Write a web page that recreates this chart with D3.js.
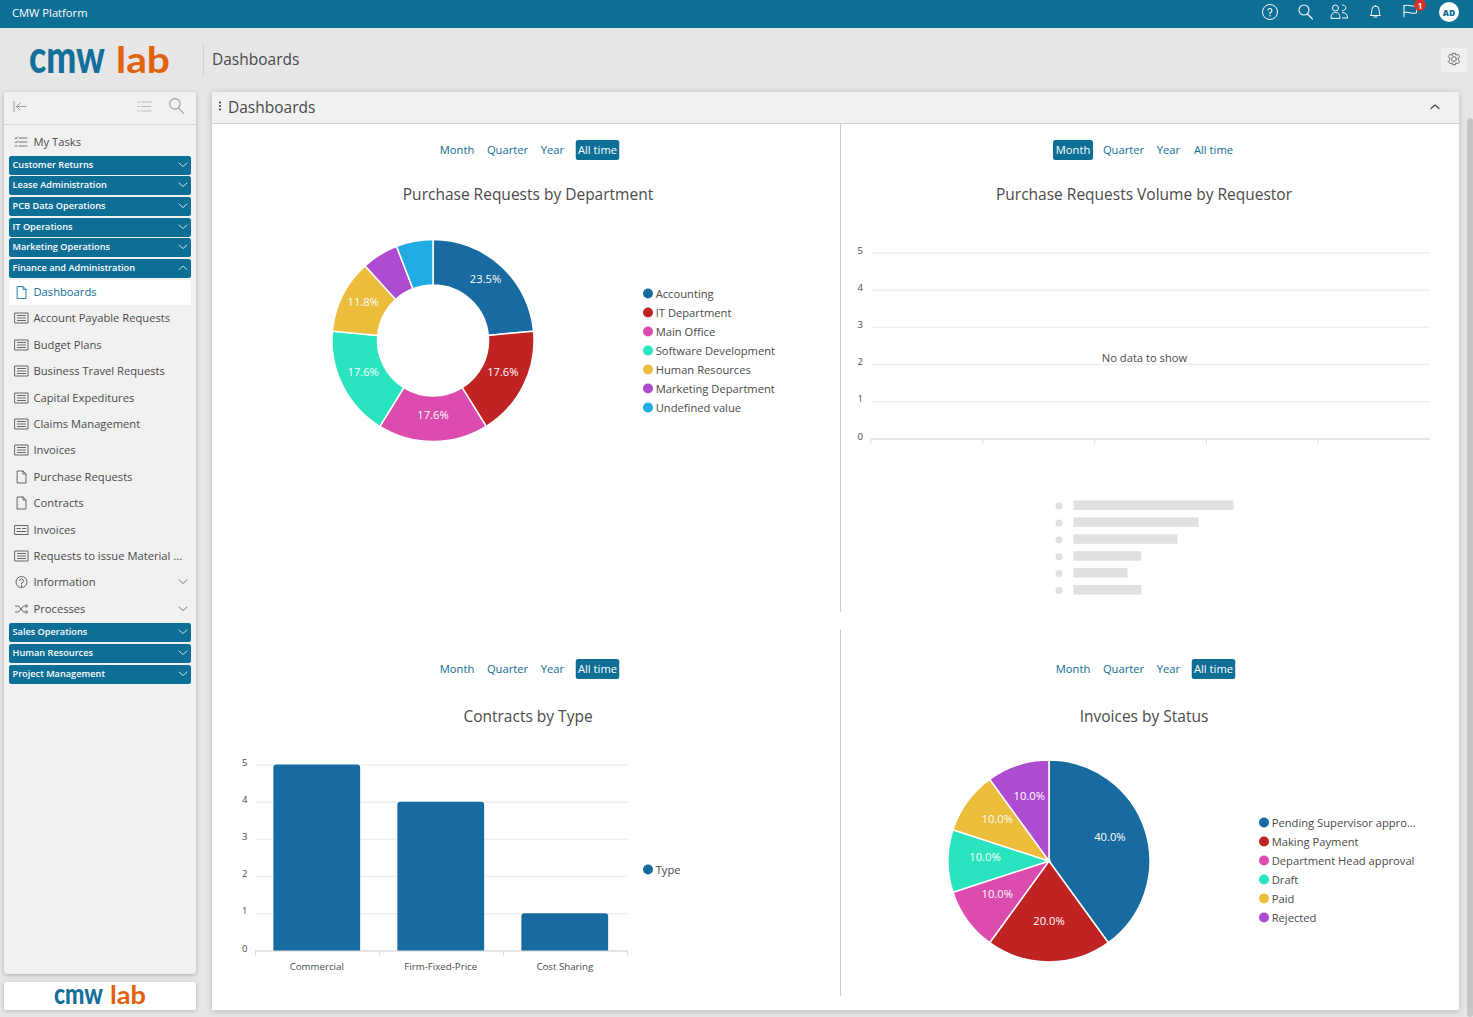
<!DOCTYPE html>
<html>
<head>
<meta charset="utf-8">
<title>Dashboards</title>
<script src="https://cdn.jsdelivr.net/npm/d3@7"></script>
<style>
html, body { margin: 0; padding: 0; background: #e6e6e6; overflow: hidden; }
svg { display: block; font-family: "Open Sans", sans-serif; }
</style>
</head>
<body>
<svg id="page" width="1473" height="1017"></svg>
<script>
// chart data
const departments = ["Accounting", "IT Department", "Main Office", "Software Development", "Human Resources", "Marketing Department", "Undefined value"];
const departmentRequests = [4, 3, 3, 3, 2, 1, 1];
const contractTypes = ["Commercial", "Firm-Fixed-Price", "Cost Sharing"];
const contractCounts = [5, 4, 1];
const invoiceStatuses = ["Pending Supervisor appro...", "Making Payment", "Department Head approval", "Draft", "Paid", "Rejected"];
const invoiceCounts = [4, 2, 1, 1, 1, 1];
const yTicks = [0, 1, 2, 3, 4, 5];
const emptyXTicks = [0, 1, 2, 3, 4];
const placeholderLengths = [160, 125, 104, 68, 54, 68];
const sliceColors = ["#186ba0", "#bf2323", "#dc4cae", "#29e4bf", "#ecbc3b", "#ae4cd1", "#20abe2"];
const periods = ["Month", "Quarter", "Year", "All time"];

// sidebar data
const groupsTop = ["Customer Returns", "Lease Administration", "PCB Data Operations", "IT Operations", "Marketing Operations", "Finance and Administration"];
const groupsTopY = [156, 176, 197, 218, 238, 259];
const groupsBottom = ["Sales Operations", "Human Resources", "Project Management"];
const groupsBottomY = [623, 644, 665];
const menuItems = ["Account Payable Requests", "Budget Plans", "Business Travel Requests", "Capital Expeditures", "Claims Management", "Invoices", "Purchase Requests", "Contracts", "Invoices", "Requests to issue Material ...", "Information", "Processes"];
const menuItemsY = [318, 345, 371, 398, 424, 450, 477, 503, 530, 556, 582, 609];
const menuIcons = ["list", "list", "list", "list", "list", "list", "doc", "doc", "card", "list", "help", "shuffle"];

const teal = "#0d6e96";
const textColor = "#4a4a4a";
const bodySize = 11.2;
const svg = d3.select("#page");

// small text sits a pixel high in the reference
const addText = (parent, x, y, str, size, fill, anchor, weight) => parent.append("text")
    .attr("x", x).attr("y", size < 15 ? y - 1 : y)
    .attr("dominant-baseline", "central")
    .attr("text-anchor", anchor || "start")
    .attr("font-size", size)
    .attr("font-weight", weight || 400)
    .attr("fill", fill)
    .text(str);

const addRect = (parent, x, y, w, h, fill, r) => parent.append("rect")
    .attr("x", x).attr("y", y).attr("width", w).attr("height", h)
    .attr("rx", r || 0).attr("fill", fill);

// small line icons, drawn around (0,0)
const iconPaths = {
    list: "M-6.5-5H6.5V5H-6.5ZM-4-2.5H4M-4 0H4M-4 2.5H4",
    doc: "M-4-6H1.5L4.5-3V6H-4ZM1.5-6V-3H4.5",
    card: "M-6.5-4.5H6.5V4.5H-6.5ZM-4.5 1.5H4.5M-4.5-1.5H-1M1-1.5H4.5",
    help: "M-2-1.5A2 2 0 1 1 0 1V2M0 3.5V4.5",
    shuffle: "M-6-3H-3L2 3H6M-6 3H-3L2-3H6M4.5-4.5L6-3L4.5-1.5M4.5 1.5L6 3L4.5 4.5",
    tasks: "M-2-4H6M-2 0H6M-2 4H6M-6-4L-5-3L-3.5-5M-6 0L-5 1L-3.5-1M-6 4H-4",
    lines: "M-3-4.5H6.5M-3 0H6.5M-3 4.5H6.5M-6.5-4.5H-5M-6.5 0H-5M-6.5 4.5H-5",
    search: "M3-3A5 5 0 1 1 -7-3A5 5 0 1 1 3-3M1.5 1L6.5 6",
    collapse: "M-6-5V5M6 0H-3.5M0-3.5L-3.5 0L0 3.5",
    down: "M-4-2L0 1.5L4-2",
    up: "M-4 1.5L0-2L4 1.5",
    bell: "M-5 4H5C3.5 2.5 4 1 3.5-2A3.5 3.5 0 0 0-3.5-2C-4 1-3.5 2.5-5 4M-1.5 5.5H1.5M0-6V-5.5",
    flag: "M-6-5.5V6M-6-5.5C-2-7 2-3.5 6.5-5.5V2C2 3.5-2 0-6 1.5",
    people: "M-1-3.5A3 3 0 1 1-7-3.5A3 3 0 1 1-1-3.5M-8.5 6.5C-8.5 2-6 1-4 1S.5 2 .5 6.5ZM3-6.5A2.8 2.8 0 1 1 3-1M3 1C6 1 8 3 8 6.5H3",
    gear: "M2.5 0A2.5 2.5 0 1 1-2.5 0A2.5 2.5 0 1 1 2.5 0M-1.5-6H1.5L2-4L4-5L6-2.5L4.5-1V1L6 2.5L4 5L2 4L1.5 6H-1.5L-2 4L-4 5L-6 2.5L-4.5 1V-1L-6-2.5L-4-5L-2-4Z"
};
const addIcon = (parent, kind, x, y, color, width, scale) => parent.append("path")
    .attr("transform", `translate(${x},${y}) scale(${scale || 1})`)
    .attr("d", iconPaths[kind])
    .attr("fill", "none")
    .attr("stroke", color)
    .attr("stroke-width", width || 1)
    .attr("stroke-linecap", "round")
    .attr("stroke-linejoin", "round");

// ---- page chrome ----
addRect(svg, 0, 0, 1473, 1017, "#e6e6e6");
addRect(svg, 0, 0, 1473, 28, teal);
addText(svg, 12, 13, "CMW Platform", bodySize, "#ffffff");

const topIcons = svg.append("g");
topIcons.append("circle").attr("cx", 1270).attr("cy", 12).attr("r", 7.5).attr("fill", "none").attr("stroke", "#fff");
addIcon(topIcons, "help", 1270, 11.5, "#fff", 1.1);
addIcon(topIcons, "search", 1306, 13, "#fff", 1.1);
addIcon(topIcons, "people", 1339.5, 11.5, "#fff", 1);
addIcon(topIcons, "bell", 1375.5, 11.5, "#fff", 1);
addIcon(topIcons, "flag", 1410, 11, "#fff", 1);
topIcons.append("circle").attr("cx", 1420).attr("cy", 5).attr("r", 6).attr("fill", "#d9302a");
addText(topIcons, 1420, 6, "1", 8, "#fff", "middle", 700);
topIcons.append("circle").attr("cx", 1449).attr("cy", 12).attr("r", 10).attr("fill", "#fff");
addText(topIcons, 1449, 13, "AD", 8.5, teal, "middle", 800);

// logo: real text, stretched to the wordmark's width and height
const addLogoWord = (str, x, y, size, len, stretchY, fill, weight) => {
    const t = svg.append("text")
        .attr("font-family", "Lato, sans-serif").attr("font-weight", weight)
        .attr("font-size", size).attr("fill", fill).text(str);
    const sx = len / t.node().getComputedTextLength();
    t.attr("transform", `translate(${x},${y}) scale(${sx},${stretchY})`);
};
addLogoWord("cmw", 29, 73, 36, 76, 1.26, "#14709a", 900);
addLogoWord("lab", 116, 73, 37, 54, 1, "#e2620c", 700);
addRect(svg, 203, 44, 1, 32, "#cfcfcf");
addText(svg, 212, 59, "Dashboards", 15.5, textColor);
addRect(svg, 1441, 48, 26, 24, "#f0f0f0", 3);
addIcon(svg, "gear", 1454, 59, "#666", 1, 0.95);

// ---- sidebar ----
const side = svg.append("g");
addRect(side, 4, 92, 192, 882, "#f1f1f1", 3).attr("filter", "drop-shadow(0 1px 2px rgba(0,0,0,0.25))");
addRect(side, 4, 124, 192, 1, "#d6d6d6");
addIcon(side, "collapse", 20, 106.5, "#999");
addIcon(side, "lines", 144.5, 106.5, "#bbb");
addIcon(side, "search", 177, 107, "#999", 1, 1.05);
addIcon(side, "tasks", 21, 142, "#777");
addText(side, 33.5, 142, "My Tasks", bodySize, textColor);

const addGroup = (label, y, open) => {
    addRect(side, 9, y, 182, 19, teal, 2.5);
    addText(side, 12.5, y + 9, label, 9.2, "#fff", "start", 600);
    addIcon(side, open ? "up" : "down", 183, y + 9, "#cfe3ec");
};
groupsTop.forEach((label, i) => addGroup(label, groupsTopY[i], label === "Finance and Administration"));
groupsBottom.forEach((label, i) => addGroup(label, groupsBottomY[i], false));

addRect(side, 9, 280, 182, 25, "#ffffff", 2.5);
addIcon(side, "doc", 21.5, 292.5, "#2b86ad");
addText(side, 33.5, 292, "Dashboards", bodySize, teal);
menuItems.forEach((label, i) => {
    addIcon(side, menuIcons[i], 21.5, menuItemsY[i], "#666");
    if (menuIcons[i] === "help") side.append("circle").attr("cx", 21.5).attr("cy", menuItemsY[i]).attr("r", 5.5).attr("fill", "none").attr("stroke", "#666");
    addText(side, 33.5, menuItemsY[i], label, bodySize, textColor);
    if (label === "Information" || label === "Processes") addIcon(side, "down", 183, menuItemsY[i], "#777");
});

addRect(svg, 4, 982, 192, 28, "#ffffff", 2).attr("filter", "drop-shadow(0 1px 2px rgba(0,0,0,0.2))");
addLogoWord("cmw", 54, 1004, 23, 49, 1.26, "#14709a", 900);
addLogoWord("lab", 110, 1004, 24, 36, 1, "#e2620c", 700);

// ---- main panel ----
addRect(svg, 212, 92, 1247, 918, "#ffffff").attr("filter", "drop-shadow(0 1px 3px rgba(0,0,0,0.2))");
addRect(svg, 212, 92, 1247, 32, "#f1f1f1");
addRect(svg, 212, 123, 1247, 1, "#cfcfcf");
[-3.5, 0, 3.5].forEach(d => svg.append("circle").attr("cx", 220).attr("cy", 106 + d).attr("r", 1.1).attr("fill", "#444"));
addText(svg, 228, 107, "Dashboards", 15.5, textColor);
addIcon(svg, "up", 1435, 107, "#444", 1.2);
addRect(svg, 840, 124, 1, 488, "#c9c9c9");
addRect(svg, 840, 630, 1, 366, "#c9c9c9");
addRect(svg, 1467, 118, 6, 899, "#c6c6c6", 3);

// period selector above each chart
const periodOffsets = [-71, -20.5, 24.5, 69.5];
const periodWidths = [40, 0, 0, 43.5];
const addPeriods = (cx, y, selected) => {
    periods.forEach((p, i) => {
        const on = i === selected;
        const x = cx + periodOffsets[i];
        if (on) addRect(svg, x - periodWidths[i] / 2, y - 10, periodWidths[i], 20, teal, 2.5);
        addText(svg, x, y, p, bodySize, on ? "#ffffff" : teal, "middle");
    });
};
addPeriods(528, 150, 3);
addPeriods(1144, 150, 0);
addPeriods(528, 669, 3);
addPeriods(1144, 669, 3);

addText(svg, 528, 194, "Purchase Requests by Department", 15.5, textColor, "middle");
addText(svg, 1144, 194, "Purchase Requests Volume by Requestor", 15.5, textColor, "middle");
addText(svg, 528, 715.5, "Contracts by Type", 15.5, textColor, "middle");
addText(svg, 1144, 715.5, "Invoices by Status", 15.5, textColor, "middle");

// ---- pie helper ----
const drawPie = (cx, cy, inner, outer, values, labelRadius, labelLift) => {
    const total = d3.sum(values);
    const g = svg.append("g").attr("transform", `translate(${cx},${cy})`);
    const pie = d3.pie().sort(null)(values);
    const arc = d3.arc().innerRadius(inner).outerRadius(outer);
    const labelArc = d3.arc().innerRadius(labelRadius).outerRadius(labelRadius);
    g.selectAll("path").data(pie).enter().append("path")
        .attr("d", arc)
        .attr("fill", (d, i) => sliceColors[i])
        .attr("stroke", "#fff")
        .attr("stroke-width", 1.5);
    // thin slices stay unlabelled
    g.selectAll("text").data(pie.filter(d => d.value / total > 0.08)).enter().append("text")
        .attr("x", d => labelArc.centroid(d)[0])
        .attr("y", d => labelArc.centroid(d)[1] - labelLift)
        .attr("text-anchor", "middle")
        .attr("dominant-baseline", "central")
        .attr("font-size", bodySize)
        .attr("fill", "#fff")
        .text(d => (d.value / total * 100).toFixed(1) + "%");
};

const drawLegend = (x, y, labels) => {
    labels.forEach((label, i) => {
        svg.append("circle").attr("cx", x).attr("cy", y + i * 19).attr("r", 5).attr("fill", sliceColors[i]);
        addText(svg, x + 7.7, y + i * 19 + 1, label, bodySize, textColor);
    });
};

drawPie(433, 340.5, 55.5, 101, departmentRequests, 78, 4.2);
drawLegend(648, 293.5, departments);
drawPie(1049, 861, 0, 101, invoiceCounts, 64, 5);
drawLegend(1264, 822.5, invoiceStatuses);

// ---- y axis + grid helper ----
const drawYAxis = (yScale, left, right) => {
    const axis = d3.axisLeft(yScale).tickValues(yTicks).tickFormat(d3.format("d")).tickSize(-(right - left)).tickPadding(8);
    const g = svg.append("g").attr("transform", `translate(${left},0)`).call(axis);
    g.select(".domain").remove();
    g.selectAll(".tick line").attr("stroke", d => d === 0 ? "#dcdcdc" : "#efefef").attr("stroke-width", 1.5);
    g.selectAll(".tick text").attr("font-family", "Open Sans").attr("font-size", 9.5).attr("fill", textColor).attr("dy", "0.07em");
    return g;
};

// empty chart
const emptyY = d3.scaleLinear().domain([0, 5]).range([438.5, 252.5]);
const emptyX = d3.scaleLinear().domain([0, 5]).range([871, 1430]);
drawYAxis(emptyY, 871, 1430);
svg.append("g").selectAll("line").data(emptyXTicks).enter().append("line")
    .attr("x1", d => emptyX(d)).attr("x2", d => emptyX(d))
    .attr("y1", 438.5).attr("y2", 444)
    .attr("stroke", "#dcdcdc");
addText(svg, 1144.5, 358, "No data to show", bodySize, textColor, "middle");

const skeletonY = d3.scalePoint().domain(d3.range(placeholderLengths.length)).range([505, 589.5]);
placeholderLengths.forEach((len, i) => {
    svg.append("circle").attr("cx", 1059).attr("cy", skeletonY(i) + 1).attr("r", 3.5).attr("fill", "#e0e0e0");
    addRect(svg, 1073.5, skeletonY(i) - 4.5, len, 9.5, "#e0e0e0");
});

// bar chart
const barX = d3.scaleBand().domain(contractTypes).range([255.5, 627.5]).paddingInner(0.3).paddingOuter(0.15).align(0.48);
const barY = d3.scaleLinear().domain([0, 5]).range([950.5, 764.5]);
drawYAxis(barY, 255.5, 627.5);
svg.append("g").selectAll("path").data(contractTypes).enter().append("path")
    .attr("d", (d, i) => {
        const x = barX(d), w = barX.bandwidth(), y = barY(contractCounts[i]), y0 = barY(0), r = 3;
        return `M${x},${y0}V${y + r}Q${x},${y} ${x + r},${y}H${x + w - r}Q${x + w},${y} ${x + w},${y + r}V${y0}Z`;
    })
    .attr("fill", sliceColors[0]);
const xAxis = svg.append("g").attr("transform", "translate(0,950.5)").call(d3.axisBottom(barX).tickSize(0).tickPadding(13));
xAxis.select(".domain").remove();
xAxis.selectAll(".tick text").attr("font-family", "Open Sans").attr("font-size", 9.7).attr("fill", textColor);
const barEdges = d3.range(contractTypes.length + 1).map(i => barX.range()[0] + i * barX.step());
svg.append("g").selectAll("line").data(barEdges).enter().append("line")
    .attr("x1", d => d).attr("x2", d => d)
    .attr("y1", 950.5).attr("y2", 956)
    .attr("stroke", "#dcdcdc");
drawLegend(648, 869.5, ["Type"]);
</script>
</body>
</html>
